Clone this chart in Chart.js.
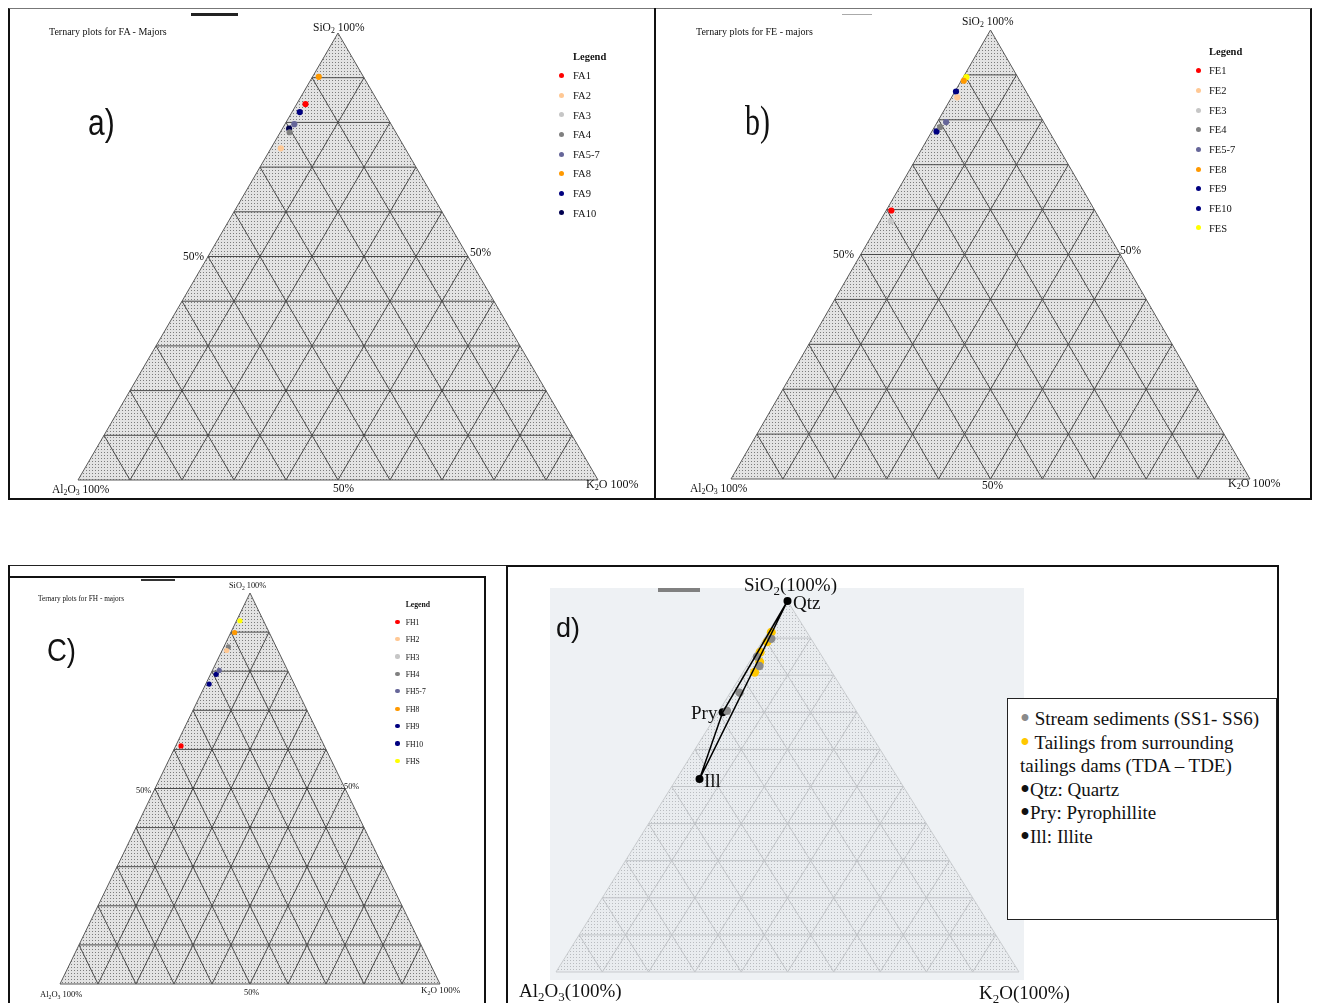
<!DOCTYPE html>
<html>
<head>
<meta charset="utf-8">
<script src="https://cdn.jsdelivr.net/npm/chart.js@4.4.1/dist/chart.umd.min.js"></script>
<style>
  body { margin: 0; width: 1318px; height: 1003px; position: relative; overflow: hidden; background: #fff;
         font-family: "Liberation Serif", "Times New Roman", serif; color: #111; }
  .t { position: absolute; white-space: nowrap; line-height: 1; z-index: 3; }
  .cv { position: absolute; z-index: 2; }
  .box { position: absolute; box-sizing: border-box; }
  sub { font-size: 0.68em; vertical-align: -0.28em; line-height: 0; }
  .bul { font-size: 1.5em; line-height: 0; vertical-align: -0.12em; }
</style>
</head>
<body>
<script>
(function () {
  "use strict";

  // --- values (fractions of SiO2 and K2O, Al2O3 is the rest) ---

  // a) FA - majors
  const faLabels = ["FA1", "FA2", "FA3", "FA4", "FA5-7", "FA8", "FA9", "FA10"];
  const faColors = ["#ff0000", "#ffc894", "#c6c6c6", "#808080", "#666699", "#ff9900", "#000080", "#000050"];
  const faSiO2 = [0.841, 0.742, null, 0.778, 0.796, 0.902, 0.823, 0.786];
  const faK2O  = [0.017, 0.019, null, 0.018, 0.018, 0.012, 0.015, 0.013];

  // b) FE - majors
  const feLabels = ["FE1", "FE2", "FE3", "FE4", "FE5-7", "FE8", "FE9", "FE10", "FES"];
  const feColors = ["#ff0000", "#ffc894", "#c6c6c6", "#808080", "#666699", "#ff9900", "#000080", "#000080", "#ffff00"];
  const feSiO2 = [0.598, 0.850, 0.574, 0.784, 0.795, 0.887, 0.863, 0.774, 0.895];
  const feK2O  = [0.010, 0.011, 0.021, 0.011, 0.017, 0.005, 0.002, 0.009, 0.006];

  // c) FH - majors
  const fhLabels = ["FH1", "FH2", "FH3", "FH4", "FH5-7", "FH8", "FH9", "FH10", "FHS"];
  const fhColors = feColors;
  const fhSiO2 = [0.609, 0.853, null, 0.862, 0.802, 0.899, 0.792, 0.767, 0.929];
  const fhK2O  = [0.014, 0.012, null, 0.012, 0.018, 0.010, 0.015, 0.009, 0.009];

  // d) stream sediments, tailings, reference minerals
  const ssSiO2 = [0.898, 0.850, 0.825, 0.753, 0.704];
  const ssK2O  = [0.016, 0.009, 0.027, 0.020, 0.017];
  const tdSiO2 = [0.916, 0.890, 0.862, 0.836, 0.808];
  const tdK2O  = [0.007, 0.011, 0.010, 0.022, 0.025];
  const minLabels = ["Qtz", "Pry", "Ill"];
  const minSiO2 = [1.00, 0.70, 0.52];
  const minK2O  = [0.00, 0.01, 0.05];

  const toXY = (s, k) => ({ x: k + s / 2, y: s });

  // ---- helpers ----
  function text(html, x, cy, size, o) {
    o = o || {};
    const d = document.createElement("div");
    d.className = "t";
    d.innerHTML = html;
    d.style.left = x + "px";
    d.style.top = (cy - size / 2) + "px";
    d.style.fontSize = size + "px";
    if (o.sans) d.style.fontFamily = '"Liberation Sans", Arial, sans-serif';
    if (o.bold) d.style.fontWeight = "bold";
    if (o.stretch) d.style.transform = "scaleY(" + o.stretch + ")";
    if (o.color) d.style.color = o.color;
    document.body.appendChild(d);
    return d;
  }

  function rect(x, y, w, h, css) {
    const d = document.createElement("div");
    d.className = "box";
    d.style.cssText += `left:${x}px;top:${y}px;width:${w}px;height:${h}px;` + css;
    document.body.appendChild(d);
  }

  function legend(labels, colors, x, y0, step, size, dotX, r) {
    text("Legend", x, y0 - step, size, { bold: true });
    labels.forEach((lab, i) => {
      const cy = y0 + i * step;
      rect(dotX - r, cy - r - 1, 2 * r, 2 * r, `border-radius:50%;background:${colors[i]};`);
      text(lab, x, cy, size);
    });
  }

  function stipple(ctx, paper, dot) {
    const c = document.createElement("canvas");
    c.width = 3; c.height = 3;
    const g = c.getContext("2d");
    g.fillStyle = paper; g.fillRect(0, 0, 3, 3);
    g.fillStyle = dot; g.fillRect(1, 1, 1, 1);
    return ctx.createPattern(c, "repeat");
  }

  // ternary frame, stipple and 10 % grid, drawn from the chart scales
  const ternaryGrid = {
    id: "ternaryGrid",
    beforeDatasetsDraw(chart, args, opts) {
      const { ctx, scales: { x, y } } = chart;
      const P = (s, k) => [x.getPixelForValue(k + s / 2), y.getPixelForValue(s)];
      const tri = () => {
        ctx.beginPath();
        ctx.moveTo(...P(0, 0)); ctx.lineTo(...P(0, 1)); ctx.lineTo(...P(1, 0));
        ctx.closePath();
      };
      ctx.save();
      tri();
      ctx.fillStyle = stipple(ctx, opts.paper, opts.dot);
      ctx.fill();
      ctx.beginPath();
      for (let i = 1; i < 10; i++) {
        const f = i / 10;
        ctx.moveTo(...P(f, 0)); ctx.lineTo(...P(f, 1 - f));
        ctx.moveTo(...P(0, f)); ctx.lineTo(...P(1 - f, f));
        ctx.moveTo(...P(0, 1 - f)); ctx.lineTo(...P(1 - f, 0));
      }
      ctx.strokeStyle = opts.line;
      ctx.lineWidth = 1;
      ctx.stroke();
      tri();
      ctx.strokeStyle = opts.edge;
      ctx.stroke();
      ctx.restore();
    },
  };

  function ternaryChart(box, datasets, look) {
    const pad = 8;
    const cv = document.createElement("canvas");
    cv.className = "cv";
    cv.width = box.right - box.left + 2 * pad;
    cv.height = box.bottom - box.top + 2 * pad;
    cv.style.left = (box.left - pad) + "px";
    cv.style.top = (box.top - pad) + "px";
    document.body.appendChild(cv);
    return new Chart(cv, {
      type: "scatter",
      data: { datasets },
      options: {
        responsive: false,
        animation: false,
        events: [],
        layout: { padding: pad },
        plugins: { legend: { display: false }, tooltip: { enabled: false }, ternaryGrid: look },
        scales: {
          x: { type: "linear", min: 0, max: 1, display: false },
          y: { type: "linear", min: 0, max: 1, display: false },
        },
      },
      plugins: [ternaryGrid],
    });
  }

  function sampleSets(labels, colors, sio2, k2o, r) {
    return labels.map((lab, i) => ({
      label: lab,
      data: sio2[i] == null ? [] : [toXY(sio2[i], k2o[i])],
      backgroundColor: colors[i],
      borderWidth: 0,
      pointRadius: r,
      clip: false,
    }));
  }

  const grey = { paper: "#e3e3e3", dot: "#7c7c7c", line: "#4a4a4a", edge: "#5a5a5a" };

  // ---- frames and scan marks ----
  rect(8, 8, 1304, 492, "border:2px solid #111;border-top:1px solid #777;");
  rect(654, 8, 2, 492, "background:#111;");
  rect(191, 13, 47, 3, "background:#222;");
  rect(842, 14, 30, 1, "background:#aaa;");
  rect(8, 565, 498, 1, "background:#222;");
  rect(8, 565, 2, 440, "background:#111;");
  rect(8, 576, 478, 430, "border:2px solid #111;border-left:none;");
  rect(141, 579, 34, 2, "background:#333;");
  rect(506, 565, 773, 440, "border:2px solid #111;");
  rect(550, 588, 474, 392, "background:#eef1f4;");
  rect(658, 588, 42, 4, "background:#808080;");

  // ---- a) ----
  ternaryChart({ left: 78, right: 598, top: 33, bottom: 480 },
    sampleSets(faLabels, faColors, faSiO2, faK2O, 3.1), grey);
  text("Ternary plots for FA - Majors", 49, 32, 10);
  text("SiO<sub>2</sub> 100%", 313, 28, 11.5);
  text("a)", 88, 123, 30, { sans: true, stretch: 1.22 });
  text("50%", 183, 257, 11.5);
  text("50%", 470, 253, 11.5);
  text("50%", 333, 489, 11.5);
  text("Al<sub>2</sub>O<sub>3</sub> 100%", 52, 490, 11.5);
  text("K<sub>2</sub>O 100%", 586, 484, 12);
  legend(faLabels, faColors, 573, 76.7, 19.6, 10.5, 561, 2.5);

  // ---- b) ----
  ternaryChart({ left: 731, right: 1250, top: 30, bottom: 479 },
    sampleSets(feLabels, feColors, feSiO2, feK2O, 3.1), grey);
  text("Ternary plots for FE - majors", 696, 32, 10);
  text("SiO<sub>2</sub> 100%", 962, 22, 11.5);
  text("b)", 745, 121, 30, { stretch: 1.4 });
  text("50%", 833, 255, 11.5);
  text("50%", 1120, 251, 11.5);
  text("50%", 982, 486, 11.5);
  text("Al<sub>2</sub>O<sub>3</sub> 100%", 690, 489, 11.5);
  text("K<sub>2</sub>O 100%", 1228, 483, 12);
  legend(feLabels, feColors, 1209, 71.7, 19.66, 10.5, 1198, 2.5);

  // ---- c) ----
  ternaryChart({ left: 60, right: 440, top: 593, bottom: 984 },
    sampleSets(fhLabels, fhColors, fhSiO2, fhK2O, 2.6), grey);
  text("Ternary plots for FH - majors", 38, 599, 7.3);
  text("SiO<sub>2</sub> 100%", 229, 586, 8.3);
  text("C)", 47, 650, 27.5, { sans: true, stretch: 1.17 });
  text("50%", 136, 791, 8.3);
  text("50%", 344, 787, 8.3);
  text("50%", 244, 993, 8.3);
  text("Al<sub>2</sub>O<sub>3</sub> 100%", 40, 994, 8.5);
  text("K<sub>2</sub>O 100%", 421, 990, 9);
  legend(fhLabels, fhColors, 405.7, 622.7, 17.4, 7.7, 397.5, 2.1);

  // ---- d) ----
  const minPts = minLabels.map((_, i) => toXY(minSiO2[i], minK2O[i]));
  ternaryChart({ left: 556, right: 1019, top: 601, bottom: 972 }, [
    { label: "field", data: [...minPts, minPts[0]], showLine: true, borderColor: "#000",
      borderWidth: 1.5, pointRadius: 0, clip: false },
    { label: "Stream sediments", data: ssSiO2.map((s, i) => toXY(s, ssK2O[i])),
      backgroundColor: "#8a8a8a", borderWidth: 0, pointRadius: 4.2, clip: false },
    { label: "Tailings", data: tdSiO2.map((s, i) => toXY(s, tdK2O[i])),
      backgroundColor: "#ffc800", borderWidth: 0, pointRadius: 4.5, clip: false },
    { label: "Minerals", data: minPts,
      backgroundColor: "#000", borderWidth: 0, pointRadius: 4, clip: false },
  ], { paper: "#e9ecef", dot: "#b9bcc0", line: "#c1c4c8", edge: "#c8cbce" });
  text("SiO<sub>2</sub>(100%)", 744, 584, 19);
  text("Qtz", 793, 602, 19);
  text("Pry", 691, 712, 19);
  text("Ill", 704, 780, 19);
  text("d)", 556, 628, 27, { sans: true });
  text("Al<sub>2</sub>O<sub>3</sub>(100%)", 519, 990, 19);
  text("K<sub>2</sub>O(100%)", 979, 992, 19);

  rect(1007, 698, 270, 222, "border:1.5px solid #222;background:#fff;z-index:2;");
  text('<span class="bul" style="color:#8a8a8a">&bull;</span> Stream sediments (SS1- SS6)', 1020, 718, 19);
  text('<span class="bul" style="color:#ffc800">&bull;</span> Tailings from surrounding', 1020, 742, 19);
  text("tailings dams (TDA &ndash; TDE)", 1020, 765, 19);
  text('<span class="bul">&bull;</span>Qtz: Quartz', 1020, 789, 19);
  text('<span class="bul">&bull;</span>Pry: Pyrophillite', 1020, 812, 19);
  text('<span class="bul">&bull;</span>Ill: Illite', 1020, 836, 19);
})();
</script>
</body>
</html>
